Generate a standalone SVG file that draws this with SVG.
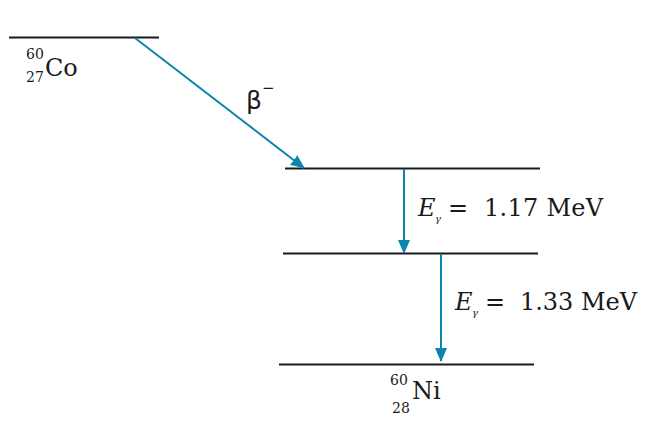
<svg xmlns="http://www.w3.org/2000/svg" width="670" height="422" viewBox="0 0 670 422">
<style>
.lvl{stroke:#1a1a1a;stroke-width:2;fill:none}
.tr{stroke:#0a86ad;stroke-width:2;fill:none}
.t{font-family:"DejaVu Serif","Liberation Serif",serif;fill:#1a1a1a}
.big{font-size:24px}
.sm{font-size:14px}
.xs{font-size:10px}
.s{font-family:"DejaVu Sans","Liberation Sans",sans-serif;fill:#1a1a1a}
</style>
<defs>
<marker id="ah" markerWidth="14" markerHeight="12" refX="13" refY="6" orient="auto" markerUnits="userSpaceOnUse">
<path d="M0,0 L14,6 L0,12 Z" fill="#0a86ad"/>
</marker>
</defs>
<g id="level-co">
<line class="lvl" x1="9" y1="37.5" x2="159" y2="37.5"/>
<text class="t sm" x="26" y="59">60</text>
<text class="t sm" x="26" y="82">27</text>
<text class="t big" x="45" y="76">Co</text>
</g>
<g id="level-1">
<line class="lvl" x1="285" y1="168.5" x2="540" y2="168.5"/>
</g>
<g id="level-2">
<line class="lvl" x1="283" y1="253.5" x2="538" y2="253.5"/>
</g>
<g id="level-ni">
<line class="lvl" x1="279" y1="364.5" x2="534" y2="364.5"/>
<text class="t sm" x="390" y="385">60</text>
<text class="t sm" x="392" y="413">28</text>
<text class="t big" x="412" y="399">Ni</text>
</g>
<g id="connectors">
<line class="tr" x1="135" y1="38" x2="304" y2="168" marker-end="url(#ah)"/>
<line class="tr" x1="404" y1="169" x2="404" y2="253" marker-end="url(#ah)"/>
<line class="tr" x1="441" y1="254" x2="441" y2="361" marker-end="url(#ah)"/>
</g>
<g id="labels">
<text class="s" x="246" y="109" font-size="25">β</text>
<text class="s" x="262" y="93" font-size="15">−</text>
<text class="t big" x="418" y="216" font-style="italic">E</text>
<text class="t xs" x="435" y="222" font-style="italic">γ</text>
<text class="t big" x="448" y="216">=</text>
<text class="t big" x="484" y="216" textLength="119">1.17 MeV</text>
<text class="t big" x="455" y="310" font-style="italic">E</text>
<text class="t xs" x="472" y="316" font-style="italic">γ</text>
<text class="t big" x="485" y="310">=</text>
<text class="t big" x="520" y="310" textLength="117">1.33 MeV</text>
</g>
</svg>
